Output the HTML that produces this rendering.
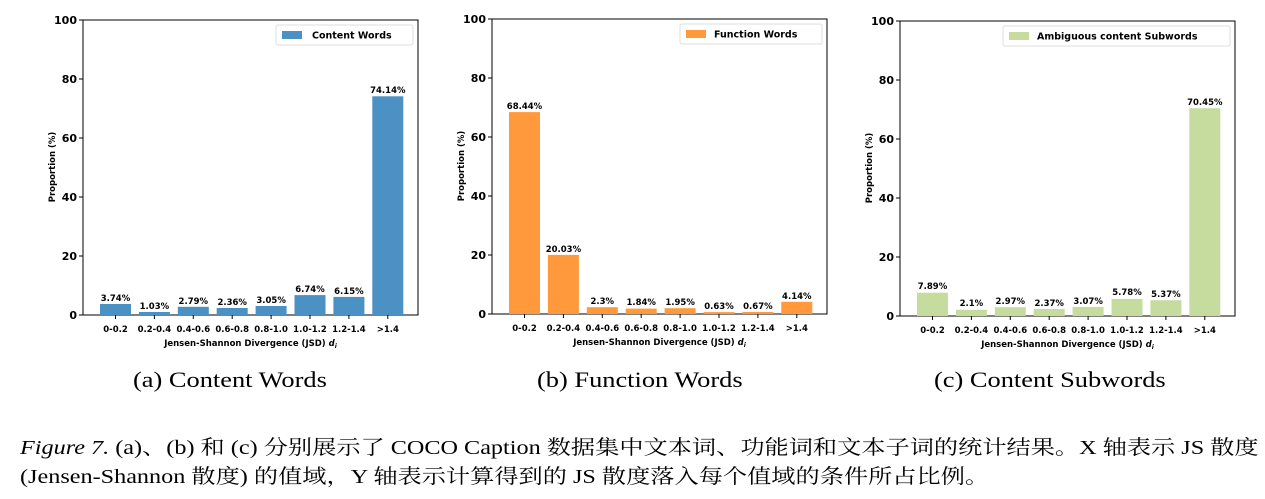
<!DOCTYPE html>
<html><head><meta charset="utf-8"><style>
body{margin:0;background:#fff;width:1265px;height:499px;overflow:hidden}
svg{position:absolute;left:0;top:0}
.t{font-family:"DejaVu Sans",sans-serif;font-weight:bold;fill:#000}
.cap{position:absolute;font-family:"Liberation Serif","Noto Serif CJK SC",serif;font-size:22px;color:#000;white-space:nowrap;transform:scaleX(1.2);transform-origin:0 0}
.fig{position:absolute;left:20px;font-family:"Liberation Serif","Noto Serif CJK SC",serif;font-size:20px;color:#000;white-space:nowrap;transform:scaleX(1.21);transform-origin:0 0}
</style></head><body>
<svg width="1265" height="499" xmlns="http://www.w3.org/2000/svg">
<defs>
<g id="ax">
<rect x="0" y="0" width="335" height="295" fill="none" stroke="#000" stroke-width="1"/>
<g stroke="#000"><line x1="-4" x2="0" y1="0" y2="0"/><line x1="-4" x2="0" y1="59" y2="59"/><line x1="-4" x2="0" y1="118" y2="118"/><line x1="-4" x2="0" y1="177" y2="177"/><line x1="-4" x2="0" y1="236" y2="236"/><line x1="-4" x2="0" y1="295" y2="295"/>
<line x1="32.5" x2="32.5" y1="295" y2="299"/><line x1="71.4" x2="71.4" y1="295" y2="299"/><line x1="110.3" x2="110.3" y1="295" y2="299"/><line x1="149.2" x2="149.2" y1="295" y2="299"/><line x1="188.1" x2="188.1" y1="295" y2="299"/><line x1="227" x2="227" y1="295" y2="299"/><line x1="265.9" x2="265.9" y1="295" y2="299"/><line x1="304.8" x2="304.8" y1="295" y2="299"/></g>
<g class="t" font-size="11" text-anchor="end"><text x="-6" y="4">100</text><text x="-6" y="63">80</text><text x="-6" y="122">60</text><text x="-6" y="181">40</text><text x="-6" y="240">20</text><text x="-6" y="299">0</text></g>
<text class="t" font-size="8.5" text-anchor="middle" transform="translate(-28,147) rotate(-90)">Proportion (%)</text>
<g class="t" font-size="8.5" text-anchor="middle"><text x="32.5" y="312">0-0.2</text><text x="71.4" y="312">0.2-0.4</text><text x="110.3" y="312">0.4-0.6</text><text x="149.2" y="312">0.6-0.8</text><text x="188.1" y="312">0.8-1.0</text><text x="227" y="312">1.0-1.2</text><text x="265.9" y="312">1.2-1.4</text><text x="304.8" y="312">&gt;1.4</text>
<text x="167.5" y="326">Jensen-Shannon Divergence (JSD) <tspan font-style="italic">d<tspan font-size="6" dy="2">i</tspan></tspan></text></g>
</g>
</defs>

<g transform="translate(83,20)">
<use href="#ax"/>
<g fill="#4b91c4">
<rect x="17" y="284" width="31" height="11"/><rect x="55.9" y="292" width="31" height="3"/><rect x="94.8" y="286.8" width="31" height="8.2"/><rect x="133.7" y="288" width="31" height="7"/><rect x="172.6" y="286" width="31" height="9"/><rect x="211.5" y="275.1" width="31" height="19.9"/><rect x="250.4" y="276.9" width="31" height="18.1"/><rect x="289.3" y="76.3" width="31" height="218.7"/></g>
<g class="t" font-size="8.5" text-anchor="middle"><text x="32.5" y="281">3.74%</text><text x="71.4" y="289">1.03%</text><text x="110.3" y="284">2.79%</text><text x="149.2" y="285">2.36%</text><text x="188.1" y="283">3.05%</text><text x="227" y="272">6.74%</text><text x="265.9" y="274">6.15%</text><text x="304.8" y="73">74.14%</text></g>
<rect x="193" y="5" width="137" height="20" fill="#fff" stroke="#ddd" rx="2"/><rect x="199" y="11" width="20" height="8" fill="#4b91c4"/><text class="t" font-size="9.5" x="229" y="18.5">Content Words</text>
</g>

<g transform="translate(492,19)">
<use href="#ax"/>
<g fill="#ff993b">
<rect x="17" y="93.1" width="31" height="201.9"/><rect x="55.9" y="235.9" width="31" height="59.1"/><rect x="94.8" y="288.2" width="31" height="6.8"/><rect x="133.7" y="289.6" width="31" height="5.4"/><rect x="172.6" y="289.2" width="31" height="5.8"/><rect x="211.5" y="293.1" width="31" height="1.9"/><rect x="250.4" y="293" width="31" height="2"/><rect x="289.3" y="282.8" width="31" height="12.2"/></g>
<g class="t" font-size="8.5" text-anchor="middle"><text x="32.5" y="90">68.44%</text><text x="71.4" y="233">20.03%</text><text x="110.3" y="285">2.3%</text><text x="149.2" y="286">1.84%</text><text x="188.1" y="286">1.95%</text><text x="227" y="290">0.63%</text><text x="265.9" y="290">0.67%</text><text x="304.8" y="280">4.14%</text></g>
<rect x="188" y="5" width="142" height="20" fill="#fff" stroke="#ddd" rx="2"/><rect x="194" y="11" width="20" height="8" fill="#ff993b"/><text class="t" font-size="9.5" x="222" y="18.5">Function Words</text>
</g>

<g transform="translate(900,21)">
<use href="#ax"/>
<g fill="#c6dc9f">
<rect x="17" y="271.7" width="31" height="23.3"/><rect x="55.9" y="288.8" width="31" height="6.2"/><rect x="94.8" y="286.2" width="31" height="8.8"/><rect x="133.7" y="288" width="31" height="7"/><rect x="172.6" y="285.9" width="31" height="9.1"/><rect x="211.5" y="277.9" width="31" height="17.1"/><rect x="250.4" y="279.2" width="31" height="15.8"/><rect x="289.3" y="87.2" width="31" height="207.8"/></g>
<g class="t" font-size="8.5" text-anchor="middle"><text x="32.5" y="268">7.89%</text><text x="71.4" y="285">2.1%</text><text x="110.3" y="283">2.97%</text><text x="149.2" y="285">2.37%</text><text x="188.1" y="283">3.07%</text><text x="227" y="274">5.78%</text><text x="265.9" y="276">5.37%</text><text x="304.8" y="84">70.45%</text></g>
<rect x="103" y="5" width="227" height="20" fill="#fff" stroke="#ddd" rx="2"/><rect x="109" y="11" width="20" height="8" fill="#c6dc9f"/><text class="t" font-size="9.5" x="137" y="18.5">Ambiguous content Subwords</text>
</g>
</svg>
<div class="cap" style="left:133px;top:367px">(a) Content Words</div>
<div class="cap" style="left:537px;top:367px">(b) Function Words</div>
<div class="cap" style="left:934px;top:367px">(c) Content Subwords</div>
<div class="fig" style="top:431px"><i>Figure 7.</i> (a)、(b) 和 (c) 分别展示了 COCO Caption 数据集中文本词、功能词和文本子词的统计结果。X 轴表示 JS 散度</div>
<div class="fig" style="top:460px">(Jensen-Shannon 散度) 的值域，Y 轴表示计算得到的 JS 散度落入每个值域的条件所占比例。</div>
</body></html>
